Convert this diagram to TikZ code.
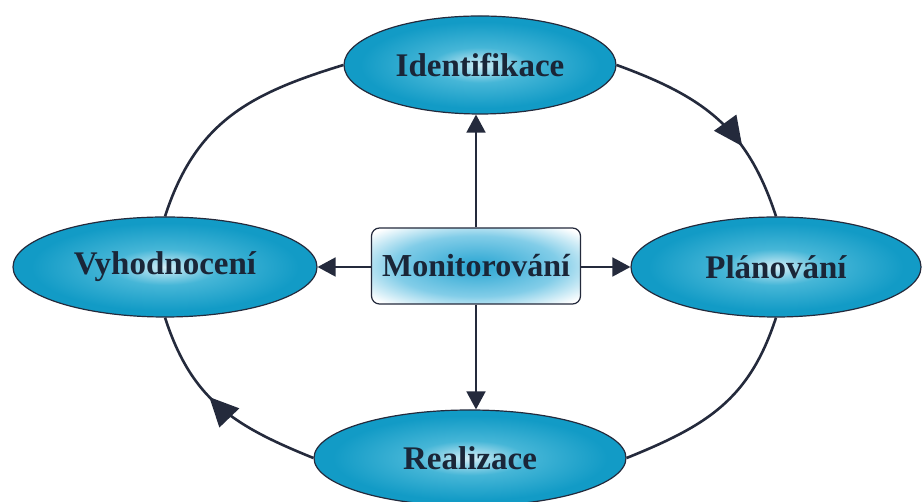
\documentclass[tikz,border=0pt]{standalone}
\usepackage{fontspec}
\setmainfont{Liberation Serif}
\usetikzlibrary{arrows.meta,decorations.markings,shapes.geometric}

\definecolor{ink}{RGB}{36,42,60}
\definecolor{txt}{RGB}{26,38,56}
\definecolor{glowout}{RGB}{18,155,198}
\definecolor{glowmid}{RGB}{70,182,215}
\definecolor{glowin}{RGB}{210,238,247}
\definecolor{boxblue}{RGB}{40,165,210}
\definecolor{boxsoft}{RGB}{130,205,232}

% soft light centre for the phase ellipses
\pgfdeclareradialshading{ellglow}{\pgfpoint{0bp}{0bp}}{color(0bp)=(glowin); color(9bp)=(glowmid); color(22bp)=(glowout); color(50bp)=(glowout)}
% blue glow fading to white for the central box
\pgfdeclareradialshading{boxglow}{\pgfpoint{0bp}{0bp}}{color(0bp)=(boxblue); color(20bp)=(boxsoft); color(33bp)=(white); color(50bp)=(white)}

\begin{document}
\begin{tikzpicture}[x=1pt,y=1pt,
  phase/.style={ellipse, draw=ink, line width=1.2pt, shading=ellglow,
    inner sep=0pt, text=txt, font=\fontsize{33}{36}\selectfont\bfseries},
  hub/.style={rectangle, rounded corners=8pt, draw=ink, line width=1.2pt,
    shading=boxglow, inner sep=0pt, minimum width=209pt, minimum height=76pt,
    text=txt, font=\fontsize{32}{36}\selectfont\bfseries},
  cycle/.style={draw=ink, line width=2.6pt, looseness=1.08},
  midarrow/.style={postaction={decorate}, decoration={markings,
    mark=at position #1 with {\arrow[ink]{Triangle[length=29pt,width=27pt]}}}},
  spoke/.style={draw=ink, line width=1.8pt, -{Triangle[length=18pt,width=19pt]}}]

\useasboundingbox (0,0) rectangle (923,502);
\fill[white] (0,0) rectangle (923,502);

% the four phases of the cycle
\node[phase, minimum width=272pt, minimum height=98pt] (ident) at (480,437) {Identifikace};
\node[phase, minimum width=290pt, minimum height=100pt] (plan) at (776,235) {Plánování};
\node[phase, minimum width=304pt, minimum height=100pt] (vyh) at (165,235) {Vyhodnocení};
\node[phase, minimum width=312pt, minimum height=96pt] (real) at (470,44) {Realizace};

% central monitoring box
\node[hub] (mon) at (476,236) {Monitorování};

% outer cycle
\draw[cycle, midarrow=0.66] (ident.east) to[out=-20,in=108] (plan.north);
\draw[cycle] (plan.south) to[out=-108,in=22] (real.east);
\draw[cycle, midarrow=0.57] (real.west) to[out=158,in=-72] (vyh.south);
\draw[cycle] (vyh.north) to[out=72,in=-163] (ident.west);

% spokes from the monitoring box
\draw[spoke] (mon.north) -- (mon.north |- ident.south);
\draw[spoke] (mon.south) -- (mon.south |- real.north);
\draw[spoke] (mon.west |- vyh.east) -- (vyh.east);
\draw[spoke] (mon.east |- plan.west) -- (plan.west);
\end{tikzpicture}
\end{document}
